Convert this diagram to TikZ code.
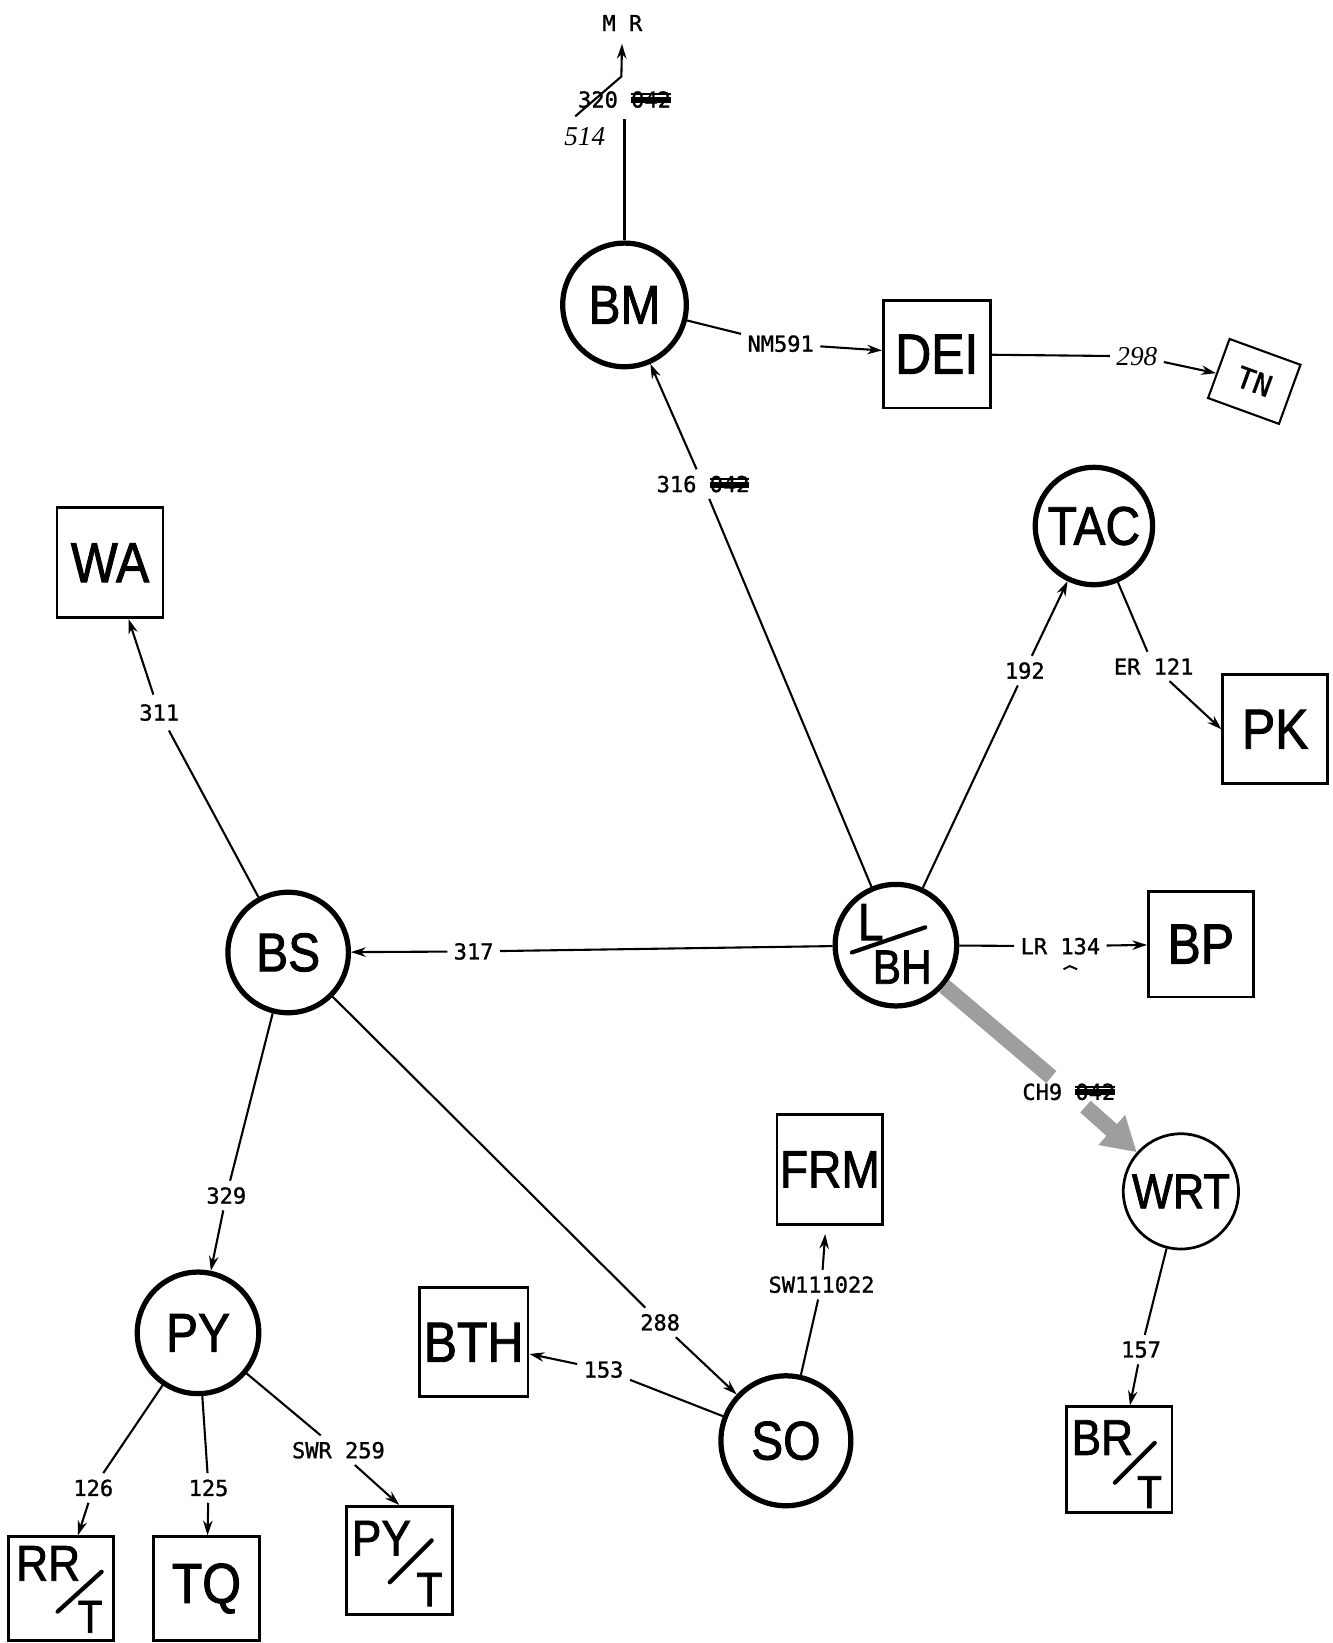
\documentclass[tikz,border=0pt]{standalone}
\usepackage{fontspec}
\setmainfont{Liberation Sans}
\newfontfamily\bigf{Liberation Sans}[FakeStretch=0.88,FakeBold=1.6]
\newfontfamily\lblf{DejaVu Sans Mono}[FakeBold=1.2]
\newfontfamily\handf{Liberation Serif}
\usetikzlibrary{arrows.meta}
\newcommand{\strk}[1]{\setbox0=\hbox{#1}\rlap{\rule[0.2em]{\wd0}{0.28em}}\rlap{\rule[0.55em]{\wd0}{0.1em}}\box0}
\begin{document}
\begin{tikzpicture}[x=1pt,y=-1pt,
 circ/.style={circle,draw,line width=5pt,inner sep=0pt,font=\bigf\fontsize{52}{52}\selectfont},
 boxn/.style={rectangle,draw,line width=2.6pt,inner sep=0pt,font=\bigf\fontsize{54}{54}\selectfont},
 lbl/.style={inner sep=6pt,font=\lblf\fontsize{21}{21}\selectfont},
 hand/.style={inner sep=6pt,font=\handf\itshape\fontsize{26}{26}\selectfont},
 part/.style={inner sep=0pt,font=\bigf\fontsize{48}{48}\selectfont},
 con/.style={line width=2pt},
 arr/.style={con,-{Stealth[length=14pt,width=9pt]}},
 band/.style={line width=15pt,draw=black!38},
 slash/.style={line width=4pt,line cap=round}]
\useasboundingbox (0,0) rectangle (1272,1568);
\fill[white] (0,0) rectangle (1272,1568);

% circles
\node[circ,minimum size=118pt] (BM) at (596,291) {BM};
\node[circ,minimum size=112pt] (TAC) at (1044,502) {TAC};
\node[circ,minimum size=116pt] (LBH) at (855,902) {};
\node[circ,minimum size=115pt] (BS) at (275,909) {BS};
\node[circ,minimum size=116pt] (PY) at (189,1272) {PY};
\node[circ,minimum size=124pt] (SO) at (750,1375) {SO};
\node[circ,line width=2.6pt,minimum size=110pt,font=\bigf\fontsize{47}{47}\selectfont] (WRT) at (1127,1137) {WRT};

% L/BH content
\node[part,font=\bigf\fontsize{50}{50}\selectfont] (Ltxt) at (831,880) {L};
\node[part,font=\bigf\fontsize{46}{46}\selectfont] (BHtxt) at (861,923) {BH};
\draw[slash] (813,909) -- (883,885);

% boxes
\node[boxn,minimum width=101pt,minimum height=105pt] (WA) at (105,537) {WA};
\node[boxn,minimum width=102pt,minimum height=103pt] (DEI) at (894,338) {DEI};
\node[boxn,minimum width=100pt,minimum height=104pt] (PK) at (1217,696) {PK};
\node[boxn,minimum width=100pt,minimum height=101pt] (BP) at (1146,901) {BP};
\node[boxn,minimum width=101pt,minimum height=105pt,font=\bigf\fontsize{50}{50}\selectfont] (FRM) at (792,1116) {FRM};
\node[boxn,minimum width=104pt,minimum height=104pt] (BTH) at (452,1281) {BTH};
\node[boxn,minimum width=101pt,minimum height=101pt] (BRT) at (1068,1393) {};
\node[boxn,minimum width=100pt,minimum height=99pt] (RRT) at (58,1516) {};
\node[boxn,minimum width=101pt,minimum height=99pt] (TQ) at (197,1516) {TQ};
\node[boxn,minimum width=101pt,minimum height=103pt] (PYT) at (381,1489) {};
\node[boxn,rotate=-20,line width=2pt,minimum width=72pt,minimum height=60pt,font=\lblf\fontsize{28}{28}\selectfont] (TN) at (1197,364) {TN};

% split box contents
\node[part] (RRtxt) at (46,1492) {RR};
\node[part,font=\bigf\fontsize{44}{44}\selectfont] (RRT2) at (86,1543) {T};
\draw[slash] (55,1538) -- (97,1500);
\node[part] (PYtxt) at (364,1468) {PY};
\node[part,font=\bigf\fontsize{46}{46}\selectfont] (PYT2) at (410,1517) {T};
\draw[slash] (372,1510) -- (412,1470);
\node[part] (BRtxt) at (1052,1372) {BR};
\node[part,font=\bigf\fontsize{44}{44}\selectfont] (BRT2) at (1097,1424) {T};
\draw[slash] (1064,1415) -- (1102,1377);

% labels
\node[lbl,inner sep=3pt] (MR) at (594,22) {M R};
\node[lbl,inner ysep=10pt] (l320) at (596,95) {320 \strk{042}};
\node[hand] (l514) at (558,130) {514};
\node[lbl] (lNM) at (745,328) {NM591};
\node[hand] (l298) at (1085,340) {298};
\node[lbl] (l316) at (671,462) {316 \strk{042}};
\node[lbl] (l192) at (978,640) {192};
\node[lbl] (lER) at (1101,636) {ER 121};
\node[lbl] (lLR) at (1012,903) {LR 134};
\node[lbl] (lCH9) at (1020,1042) {CH9 \strk{042}};
\node[lbl] (l157) at (1089,1288) {157};
\node[lbl] (l317) at (452,908) {317};
\node[lbl,inner sep=9pt] (l311) at (152,680) {311};
\node[lbl] (l329) at (216,1141) {329};
\node[lbl] (l288) at (630,1262) {288};
\node[lbl] (l153) at (576,1307) {153};
\node[lbl] (lSW) at (784,1226) {SW111022};
\node[lbl] (lSWR) at (323,1384) {SWR 259};
\node[lbl] (l126) at (89,1420) {126};
\node[lbl] (l125) at (199,1420) {125};
\draw[line width=1.8pt] (1015,925) -- (1021,922) -- (1028,925);

% connectors
\coordinate (d1) at (549,111);
\coordinate (d2) at (593,73);
\draw[con] (BM) -- (l320);
\draw[arr,shorten >=9pt] (d1) -- (d2) -- (MR);
\draw[con] (BM) -- (lNM);
\draw[arr] (lNM) -- (DEI);
\draw[con] (DEI) -- (l298);
\draw[arr] (l298) -- (TN);
\draw[con] (LBH) -- (l316);
\draw[arr] (l316) -- (BM);
\draw[con] (LBH) -- (l192);
\draw[arr] (l192) -- (TAC);
\draw[con] (TAC) -- (lER);
\draw[arr] (lER) -- (PK.west);
\draw[con] (LBH) -- (lLR);
\draw[arr] (lLR) -- (BP);
\draw[band] (LBH) -- (lCH9);
\draw[band,-{Triangle[length=32pt,width=36pt]}] (lCH9) -- (WRT);
\draw[con] (WRT) -- (l157);
\draw[arr] (l157) -- (BRT);
\draw[con] (LBH) -- (l317);
\draw[arr] (l317) -- (BS);
\draw[con] (BS) -- (l311);
\draw[arr] (l311) -- (WA);
\draw[con] (BS) -- (l329);
\draw[arr] (l329) -- (PY);
\draw[con] (BS) -- (l288);
\draw[arr] (l288) -- (SO);
\draw[con] (SO) -- (l153);
\draw[arr] (l153) -- (BTH);
\draw[con] (SO) -- (lSW);
\draw[arr,shorten >=8pt] (lSW) -- (FRM);
\draw[con] (PY) -- (l126);
\draw[arr] (l126) -- (RRT);
\draw[con] (PY) -- (l125);
\draw[arr] (l125) -- (TQ);
\draw[con] (PY) -- (lSWR);
\draw[arr] (lSWR) -- (PYT.north);
\end{tikzpicture}
\end{document}
